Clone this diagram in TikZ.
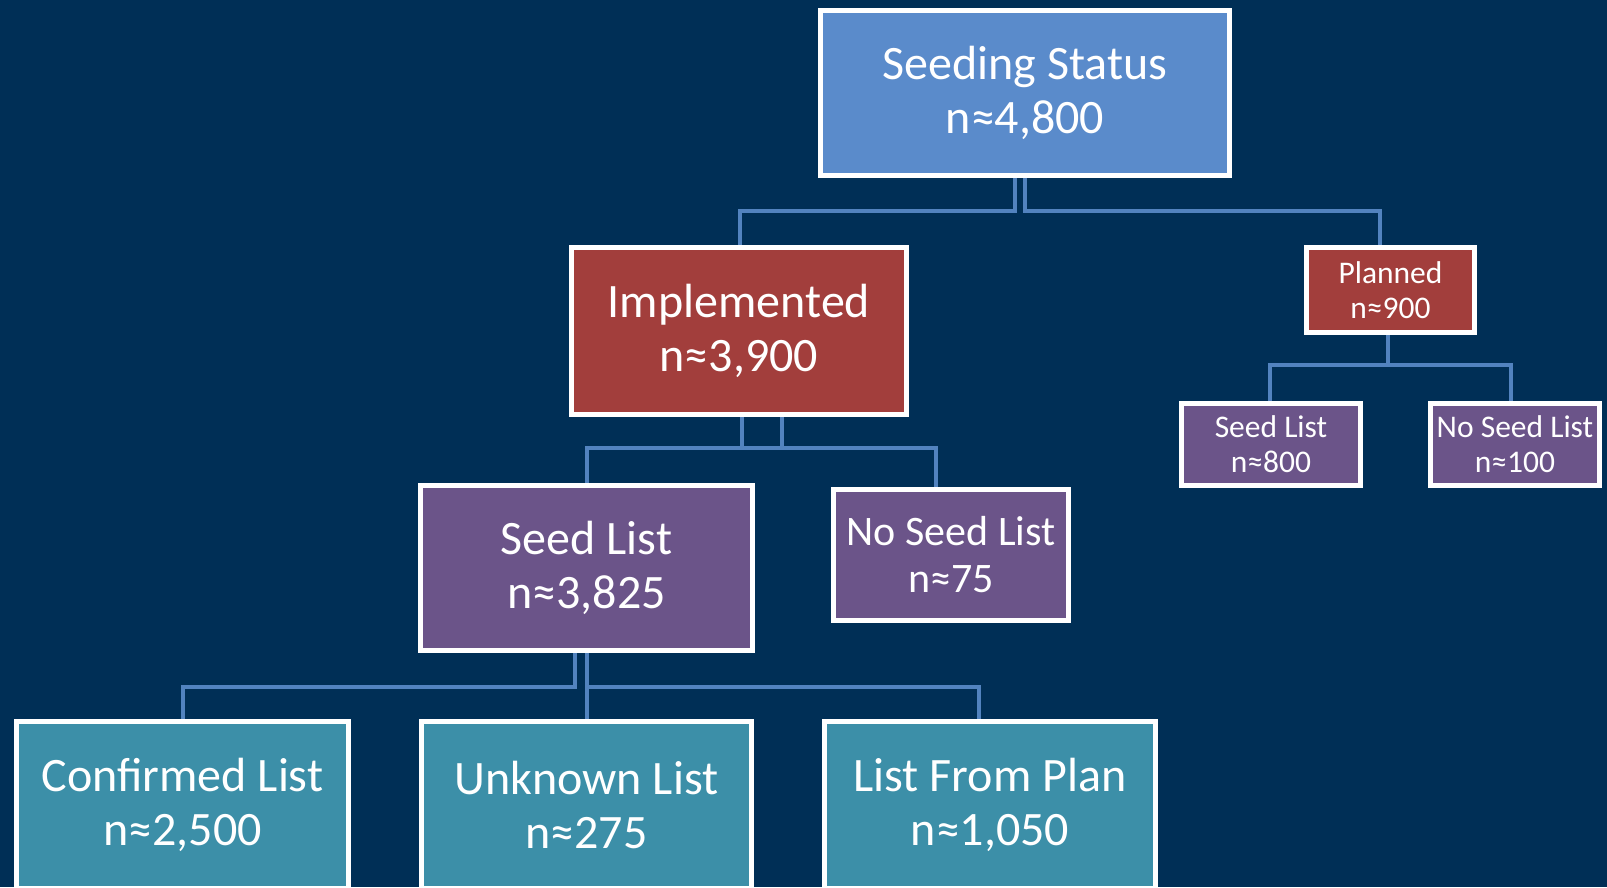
\documentclass[tikz,border=0pt]{standalone}
\usepackage{fontspec}
\setmainfont{Carlito}
\definecolor{bgnavy}{HTML}{002F56}
\definecolor{topblue}{HTML}{5A8BCB}
\definecolor{boxred}{HTML}{A23E3C}
\definecolor{boxpurple}{HTML}{6B5489}
\definecolor{boxteal}{HTML}{3C8FA8}
\definecolor{connblue}{HTML}{5283BF}
\pgfdeclarelayer{back}
\pgfdeclarelayer{lines}
\pgfsetlayers{back,lines,main}
\tikzset{
  box/.style={draw=white, line width=5pt, inner sep=0pt, align=center, text=white, rectangle},
  bigtxt/.style={font=\fontsize{48}{54}\selectfont},
  midtxt/.style={font=\fontsize{42}{47}\selectfont},
  smalltxt/.style={font=\fontsize{31.5}{35}\selectfont},
  conn/.style={draw=connblue, line width=4.5pt},
}
\begin{document}
\begin{tikzpicture}[x=1pt,y=-1pt]
\useasboundingbox (0,0) rectangle (1607,887);
\begin{pgfonlayer}{back}
\fill[bgnavy] (0,0) rectangle (1607,887);
\end{pgfonlayer}

\node[box, bigtxt, fill=topblue, minimum width=409pt, minimum height=165pt] (ss) at (1025,93) {Seeding Status\\n≈4,800};
\node[box, bigtxt, fill=boxred, minimum width=335pt, minimum height=167pt] (impl) at (739,331) {Implemented\\n≈3,900};
\node[box, smalltxt, fill=boxred, minimum width=168pt, minimum height=85pt] (plan) at (1390.5,290) {Planned\\n≈900};
\node[box, smalltxt, fill=boxpurple, minimum width=179pt, minimum height=82pt] (psl) at (1271,444.5) {Seed List\\n≈800};
\node[box, smalltxt, fill=boxpurple, minimum width=169pt, minimum height=82pt] (pnsl) at (1515,444.5) {No Seed List\\n≈100};
\node[box, bigtxt, fill=boxpurple, minimum width=332pt, minimum height=165pt] (sl) at (586.5,568) {Seed List\\n≈3,825};
\node[box, midtxt, fill=boxpurple, minimum width=235pt, minimum height=131pt] (nsl) at (951,555) {No Seed List\\n≈75};
\node[box, bigtxt, fill=boxteal, minimum width=332pt, minimum height=167pt] (cl) at (182.5,805) {Confirmed List\\n≈2,500};
\node[box, bigtxt, fill=boxteal, minimum width=330pt, minimum height=167pt] (ul) at (586.5,805) {Unknown List\\n≈275};
\node[box, bigtxt, fill=boxteal, minimum width=331pt, minimum height=167pt] (lfp) at (990,805) {List From Plan\\n≈1,050};

\begin{pgfonlayer}{lines}
\draw[conn] (ss.south -| 1015,0) |- (740,211) -- (impl.north -| 740,0);
\draw[conn] (ss.south -| 1025,0) |- (1380,211) -- (plan.north -| 1380,0);
\draw[conn] (impl.south -| 782,0) |- (587,448) -- (sl.north -| 587,0);
\draw[conn] (impl.south -| 742,0) |- (936,448) -- (nsl.north -| 936,0);
\draw[conn] (sl.south -| 575,0) |- (183,687) -- (cl.north -| 183,0);
\draw[conn] (sl.south -| 587,0) -- (ul.north -| 587,0);
\draw[conn] (sl.south -| 587,0) |- (979,687) -- (lfp.north -| 979,0);
\draw[conn] (plan.south -| 1388,0) |- (1270,365) -- (psl.north -| 1270,0);
\draw[conn] (plan.south -| 1388,0) |- (1511,365) -- (pnsl.north -| 1511,0);
\end{pgfonlayer}
\end{tikzpicture}
\end{document}
